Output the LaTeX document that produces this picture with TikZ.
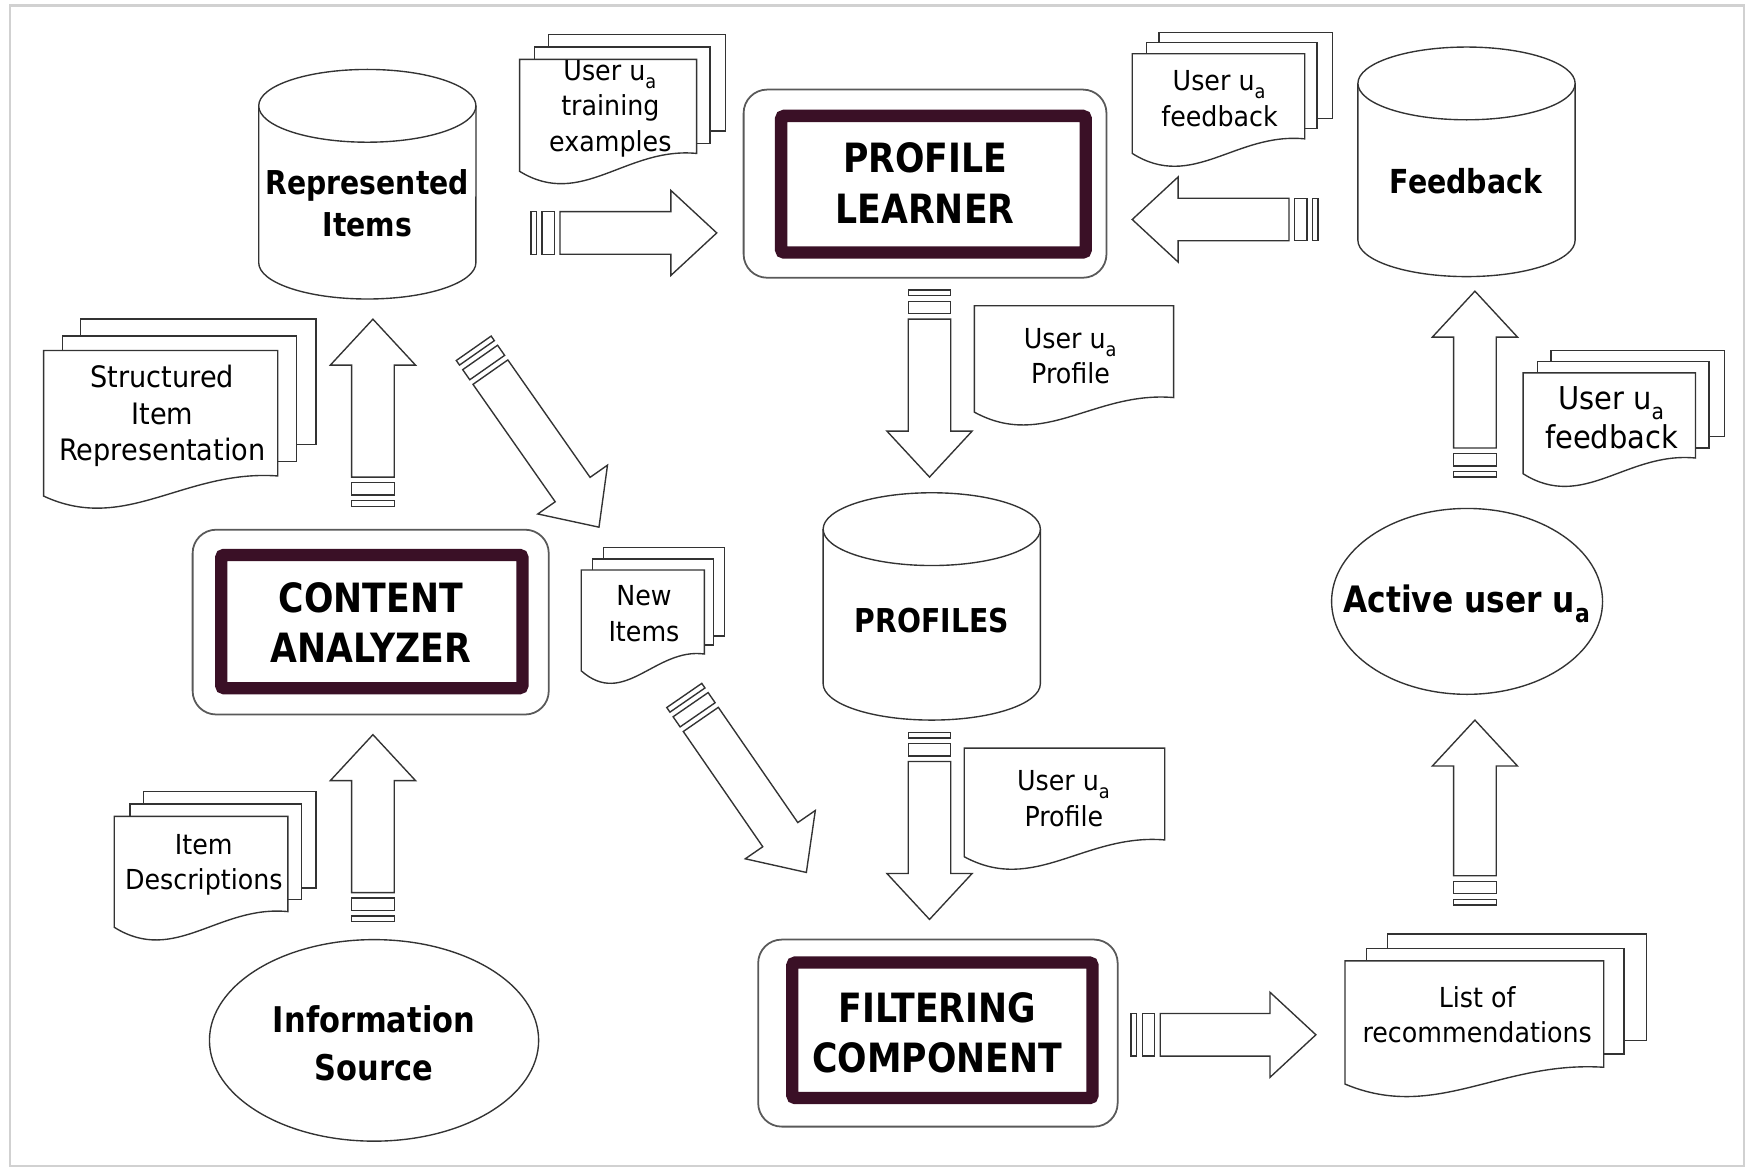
\documentclass[tikz,border=0pt]{standalone}
\usepackage{fontspec}
\setmainfont{DejaVu Sans}[FakeStretch=0.92]
\newfontfamily\labelfont{DejaVu Sans}[FakeStretch=0.86]
\usetikzlibrary{calc}
\definecolor{boxmaroon}{RGB}{58,16,38}
\newcommand\usera{u\textsubscript{\raisebox{-0.35ex}{a}}}
\tikzset{
    every picture/.style={line width=0.7pt},
    shapeline/.style={draw=black!80,line width=0.7pt,fill=white},
    outerbox/.style={draw=black!65,line width=0.9pt,fill=white,rounded corners=0.42cm},
    innerbox/.style={draw=boxmaroon,line width=0.22cm,rounded corners=1.5pt},
    doctext/.style={align=center,inner sep=0pt,font=\fontsize{14}{18}\selectfont},
    boldtext/.style={align=center,inner sep=0pt,font=\labelfont\bfseries\fontsize{16.7}{21}\selectfont},
    boxtext/.style={align=center,inner sep=0pt,font=\labelfont\bfseries\fontsize{20.5}{25.5}\selectfont},
    pics/flowarrow/.style={code={
        \draw[shapeline] (0,-19) rectangle (5,19);
        \draw[shapeline] (10,-19) rectangle (21,19);
        \draw[shapeline] (26,-19) -- ({26+#1},-19) -- ({26+#1},-38) -- ({67+#1},0)
            -- ({26+#1},38) -- ({26+#1},19) -- (26,19) -- cycle;
    }}
}
% page with a wavy lower edge: left, top, right, lower left, lower right
\newcommand\docsheet[5]{%
    \draw[shapeline] (#1,#2) -- (#3,#2) -- (#3,#5)
        .. controls ({#1+0.6*(#3-#1)},{#5-6}) and ({#1+0.35*(#3-#1)},{#4+34}) .. (#1,#4) -- cycle;}
% database drum: centre x, top centre y, bottom centre y
\newcommand\dbcylinder[3]{%
    \draw[shapeline] ({#1-97},#2) -- ({#1-97},#3)
        arc[start angle=180,end angle=360,x radius=1.94cm,y radius=0.65cm] -- ({#1+97},#2);
    \draw[shapeline] (#1,#2) ellipse[x radius=1.94cm,y radius=0.65cm];}

\begin{document}
\begin{tikzpicture}[x=0.02cm,y=-0.02cm]
    \useasboundingbox (0,0) rectangle (1568,1043);
    \draw[draw=black!18,line width=1.2pt] (9,5) rectangle (1557,1041);

    % the three components
    \draw[outerbox] (664,80) rectangle (988,248);
    \draw[innerbox] (697.5,103.5) rectangle (969.5,225.5);
    \node[boxtext] (learner) at (826,163.5) {PROFILE\\LEARNER};

    \draw[outerbox] (172,473) rectangle (490,638);
    \draw[innerbox] (197.5,495.5) rectangle (466.5,614.5);
    \node[boxtext] (analyzer) at (331,556) {CONTENT\\ANALYZER};

    \draw[outerbox] (677,839) rectangle (998,1006);
    \draw[innerbox] (707.5,859.5) rectangle (975.5,980.5);
    \node[boxtext] (filtering) at (837,922) {FILTERING\\COMPONENT};

    % stores
    \dbcylinder{328}{94.5}{234.5}
    \node[boldtext] (represented) at (328,181.5) {Represented\\Items};
    \dbcylinder{1309.5}{74.5}{214.5}
    \node[boldtext,font=\labelfont\bfseries\fontsize{16.8}{21}\selectfont] (feedback) at (1309,162) {Feedback};
    \dbcylinder{832}{472.5}{610.5}
    \node[boldtext] (profiles) at (832,554) {PROFILES};

    % source and user
    \draw[shapeline] (334,929) ellipse[x radius=2.94cm,y radius=1.8cm];
    \node[boldtext,font=\labelfont\bfseries\fontsize{18}{24.4}\selectfont] (source) at (334,932) {Information\\Source};
    \draw[shapeline] (1310,537) ellipse[x radius=2.42cm,y radius=1.66cm];
    \node[boldtext,font=\labelfont\bfseries\fontsize{18.5}{22}\selectfont] (activeuser) at (1310,539) {Active user \usera};

    % documents
    \draw[shapeline] (490,31) rectangle (648,117);
    \draw[shapeline] (477,42) rectangle (634,128);
    \docsheet{464}{53}{622}{153}{137}
    \node[doctext] (training) at (545,97) {User \usera\\training\\examples};

    \draw[shapeline] (1035,29) rectangle (1190,106);
    \draw[shapeline] (1024,38) rectangle (1176,115);
    \docsheet{1011}{48}{1165}{137}{124}
    \node[doctext] (fbdoc) at (1089,88) {User \usera\\feedback};

    \draw[shapeline] (72,285) rectangle (282,397);
    \draw[shapeline] (56,300) rectangle (265,412);
    \docsheet{39}{313}{248}{443}{425}
    \node[doctext,font=\fontsize{15}{18.5}\selectfont] (structured) at (145,371.5) {Structured\\Item\\Representation};

    \docsheet{870}{273}{1048}{368}{355}
    \node[doctext] (profdoc) at (956,318) {User \usera\\Profile};

    \draw[shapeline] (1385,313) rectangle (1540,390);
    \draw[shapeline] (1373,323) rectangle (1526,400);
    \docsheet{1360}{333}{1514}{423}{409}
    \node[doctext,font=\fontsize{16}{19.5}\selectfont] (userfb) at (1439,373) {User \usera\\feedback};

    \draw[shapeline] (539,489) rectangle (647,568);
    \draw[shapeline] (529,499) rectangle (637,576);
    \docsheet{519}{509}{629}{599}{584}
    \node[doctext] (newitems) at (575,548) {New\\Items};

    \draw[shapeline] (128,707) rectangle (282,793);
    \draw[shapeline] (116,718) rectangle (269,803);
    \docsheet{102}{729}{257}{828}{814}
    \node[doctext] (descriptions) at (182,772) {Item\\Descriptions};

    \docsheet{861}{668}{1040}{765}{750}
    \node[doctext] (profdocb) at (950,713) {User \usera\\Profile};

    \draw[shapeline] (1239,834) rectangle (1470,929);
    \draw[shapeline] (1220,847) rectangle (1450,941);
    \docsheet{1201}{858}{1432}{968}{953}
    \node[doctext] (reclist) at (1319,906) {List of\\recommendations};

    % flow arrows
    \pic at (474,208) {flowarrow=99};
    \pic[rotate=180] at (1177,196) {flowarrow=99};
    \pic[rotate=-90] at (830,259) {flowarrow=100};
    \pic[rotate=-90] at (830,654) {flowarrow=100};
    \pic[rotate=90] at (333,452) {flowarrow=100};
    \pic[rotate=90] at (333,823) {flowarrow=100};
    \pic[rotate=90] at (1317,426) {flowarrow=99};
    \pic[rotate=90] at (1317,808) {flowarrow=98};
    \pic at (1010,924) {flowarrow=98};
    \pic[rotate=-55] at (423,311) {flowarrow=128};
    \pic[rotate=-55.4] at (611,621) {flowarrow=125};
\end{tikzpicture}
\end{document}
